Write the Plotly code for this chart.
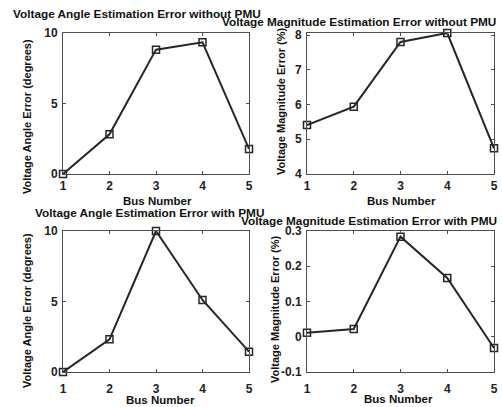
import plotly.graph_objects as go

W, H = 502, 407

bus = [1, 2, 3, 4, 5]
angle_no_pmu = [0.0, 2.82, 8.82, 9.34, 1.78]
mag_no_pmu = [5.41, 5.94, 7.80, 8.06, 4.74]
angle_pmu = [0.0, 2.32, 10.0, 5.11, 1.44]
mag_pmu = [0.011, 0.022, 0.284, 0.167, -0.032]

x_ticks = [1, 2, 3, 4, 5]
angle_ticks = [0, 5, 10]
mag_no_ticks = [4, 5, 6, 7, 8]
mag_pmu_ticks = [-0.1, 0, 0.1, 0.2, 0.3]
mag_pmu_ticktext = ["-0.1", "0", "0.1", "0.2", "0.3"]

titles = [
    "Voltage Angle Estimation Error without PMU",
    "Voltage Magnitude Estimation Error without PMU",
    "Voltage Angle Estimation Error with PMU",
    "Voltage Magnitude Estimation Error with PMU",
]
ylabels = [
    "Voltage Angle Error (degrees)",
    "Voltage Magnitude Error (%)",
    "Voltage Angle Error (degrees)",
    "Voltage Magnitude Error (%)",
]
xlabel = "Bus Number"

FONT = "Liberation Sans, Arial, sans-serif"
LINE = "#262626"
AX = "#4d4d4d"

def px(x):
    return x / W

def py(y):
    return 1 - y / H

fig = go.Figure()

series = [angle_no_pmu, mag_no_pmu, angle_pmu, mag_pmu]
for i, s in enumerate(series):
    n = "" if i == 0 else str(i + 1)
    fig.add_trace(go.Scatter(
        x=bus, y=s, mode="lines+markers", xaxis="x" + n, yaxis="y" + n,
        line=dict(color=LINE, width=2),
        marker=dict(symbol="square-open", size=7, color=LINE, line=dict(width=1.5, color=LINE)),
        showlegend=False, cliponaxis=False,
    ))

xdom_l = [px(63), px(249)]
xdom_r = [px(307), px(494)]
ydom_t = [py(174), py(33)]
ydom_b = [py(372), py(231)]

common_ax = dict(showline=True, linecolor=AX, linewidth=1, mirror="ticks", automargin=False,
                 ticks="inside", ticklen=3, tickcolor=AX, showgrid=False, zeroline=False,
                 tickfont=dict(family=FONT, size=12, color="#222", weight="bold"))

layout = dict(
    width=W, height=H, margin=dict(l=0, r=0, t=0, b=0, pad=0, autoexpand=False),
    autosize=False, paper_bgcolor="white", plot_bgcolor="white",
)

doms = [(xdom_l, ydom_t), (xdom_r, ydom_t), (xdom_l, ydom_b), (xdom_r, ydom_b)]
yranges = [[0, 10], [4, 8.06], [0, 10], [-0.1, 0.3]]
ytv = [angle_ticks, mag_no_ticks, angle_ticks, mag_pmu_ticks]
ytt = [[str(v) for v in angle_ticks], [str(v) for v in mag_no_ticks],
       [str(v) for v in angle_ticks], mag_pmu_ticktext]
xstand = [1, 1, 6, 6]
for i in range(4):
    n = "" if i == 0 else str(i + 1)
    layout["xaxis" + n] = dict(common_ax, domain=doms[i][0], range=[1, 5], tickvals=x_ticks,
                               anchor="y" + n, ticklabelstandoff=xstand[i])
    layout["yaxis" + n] = dict(common_ax, domain=doms[i][1], range=yranges[i], tickvals=ytv[i],
                               ticktext=ytt[i], anchor="x" + n, ticklabelstandoff=2)

fig.update_layout(**layout)

ann = []
tfont = dict(family=FONT, size=11.8, color="#111", weight="bold")
lfont = dict(family=FONT, size=11, color="#111", weight="bold")
xfont = dict(family=FONT, size=11.5, color="#111", weight="bold")
tpos = [(11, 14, "left"), (498, 22, "right"), (33, 213, "left"), (499, 221, "right")]
for t, (x, y, a) in zip(titles, tpos):
    ann.append(dict(text=t, x=px(x), y=py(y), xref="paper", yref="paper",
                    xanchor=a, yanchor="middle", showarrow=False, font=tfont))
ypos = [(27, 117), (281, 102), (27, 311), (275, 310)]
for t, (x, y) in zip(ylabels, ypos):
    ann.append(dict(text=t, x=px(x), y=py(y), xref="paper", yref="paper", textangle=-90,
                    xanchor="center", yanchor="middle", showarrow=False, font=lfont))
xpos = [(157, 201), (401, 201), (160, 400), (398, 399)]
for (x, y) in xpos:
    ann.append(dict(text=xlabel, x=px(x), y=py(y), xref="paper", yref="paper",
                    xanchor="center", yanchor="middle", showarrow=False, font=xfont))
fig.update_layout(annotations=ann)

fig.write_html("out.html", config=dict(displayModeBar=False, responsive=False),
               post_script="document.body.style.margin='0';document.body.style.overflow='hidden';")
